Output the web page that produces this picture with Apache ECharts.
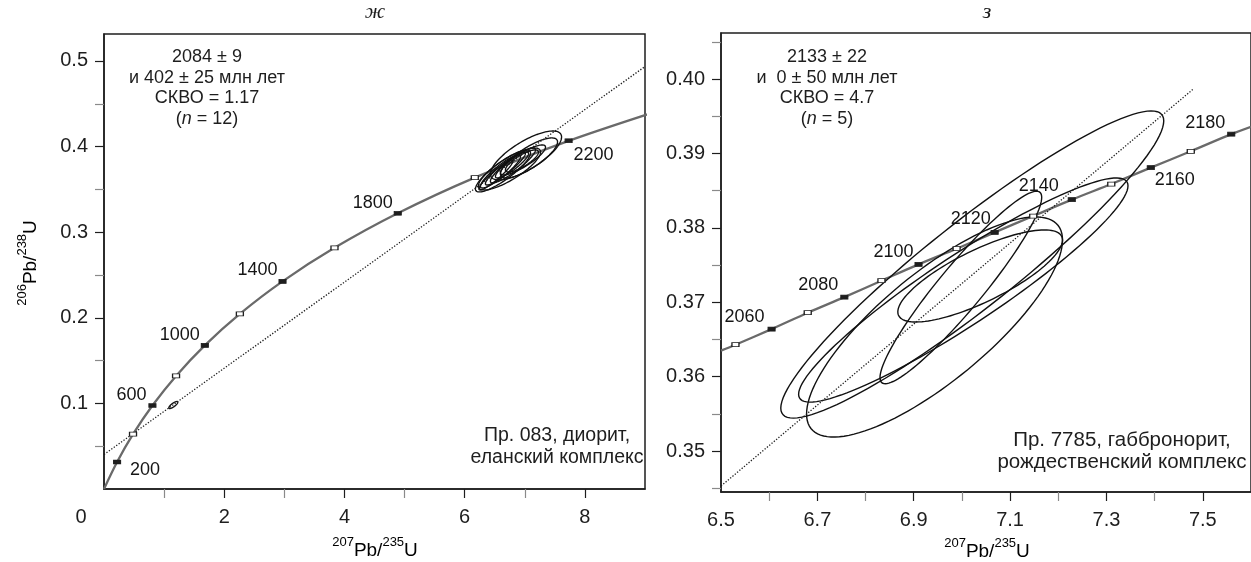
<!DOCTYPE html>
<html>
<head>
<meta charset="utf-8">
<script src="https://cdn.jsdelivr.net/npm/echarts@6/dist/echarts.min.js"></script>
<style>
  html, body { margin: 0; padding: 0; background: #fff; }
  #chart { width: 1251px; height: 562px; }
</style>
</head>
<body>
<div id="chart"></div>
<script>
// ---- Panel ж : concordia ages (Ma) and their isotope ratios ----
const leftAges  = [0, 200, 400, 600, 800, 1000, 1200, 1400, 1600, 1800, 2000, 2200, 2400];
const leftPb207 = [0, 0.2177, 0.4828, 0.8056, 1.1987, 1.6774, 2.2603, 2.9701, 3.8344, 4.8869, 6.1685, 7.7291, 9.6295];
const leftPb206 = [0, 0.03151, 0.06402, 0.09754, 0.13213, 0.16782, 0.20459, 0.24257, 0.28173, 0.32212, 0.36377, 0.40674, 0.45107];
const leftLabelledAges = [200, 600, 1000, 1400, 1800, 2200];
// discordia end points [207Pb/235U, 206Pb/238U]
const leftDiscordia = [[0, 0.0403], [9, 0.4935]];
// error ellipses: [207/235, 206/238, half-width 207/235, half-height 206/238, rho]
const leftEllipses = [
  [7.020, 0.3896, 0.592, 0.0286, 0.755],
  [7.070, 0.3867, 0.475, 0.0234, 0.80],
  [6.745, 0.3738, 0.517, 0.0245, 0.81],
  [6.637, 0.3715, 0.458, 0.0245, 0.86],
  [6.595, 0.3709, 0.333, 0.0193, 0.90],
  [6.678, 0.3744, 0.333, 0.0193, 0.92],
  [6.803, 0.3779, 0.375, 0.0204, 0.90],
  [6.787, 0.3785, 0.275, 0.0152, 0.88],
  [6.520, 0.3668, 0.283, 0.0175, 0.93],
  [6.970, 0.3844, 0.375, 0.0175, 0.85],
  [6.953, 0.3832, 0.275, 0.0129, 0.80],
  [1.153, 0.0981, 0.075, 0.0041, 0.80]
];
const leftXLabels = [0, 2, 4, 6, 8];
const leftXTicks  = [2, 4, 6, 8];
const leftXMinor  = [1, 3, 5, 7];
const leftYLabels = [0.1, 0.2, 0.3, 0.4, 0.5];
const leftYMinor  = [0.05, 0.15, 0.25, 0.35, 0.45];

// ---- Panel з ----
const rightAges  = [2050, 2060, 2070, 2080, 2090, 2100, 2110, 2120, 2130, 2140, 2150, 2160, 2170, 2180];
const rightPb207 = [6.530, 6.605, 6.680, 6.756, 6.833, 6.910, 6.989, 7.068, 7.148, 7.228, 7.310, 7.392, 7.475, 7.559];
const rightPb206 = [0.3643, 0.3664, 0.3686, 0.3707, 0.3729, 0.3751, 0.3772, 0.3794, 0.3816, 0.3838, 0.3859, 0.3881, 0.3903, 0.3926];
const rightConcordiaStart = [6.50, 0.3635];
const rightConcordiaEnd   = [7.60, 0.3936];
const rightLabelledAges = [2060, 2080, 2100, 2120, 2140, 2160, 2180];
const rightDiscordia = [[6.50, 0.3453], [7.479, 0.3986]];
const rightEllipses = [
  [7.0215, 0.37508, 0.3974, 0.020645, 0.935],
  [7.0029, 0.37165, 0.3418, 0.015064, 0.93],
  [7.0379, 0.37354, 0.1709, 0.006187, 0.78],
  [6.9978, 0.37199, 0.1678, 0.012939, 0.936],
  [6.9432, 0.36668, 0.2656, 0.014795, 0.79]
];
const rightXLabels = [6.5, 6.7, 6.9, 7.1, 7.3, 7.5];
const rightXTicks  = [6.7, 6.9, 7.1, 7.3, 7.5];
const rightXMinor  = [6.6, 6.8, 7.0, 7.2, 7.4];
const rightYLabels = [0.35, 0.36, 0.37, 0.38, 0.39, 0.40];
const rightYMinor  = [0.345, 0.355, 0.365, 0.375, 0.385, 0.395, 0.405];

// ---- styling ----
const FONT = '"Liberation Sans", Arial, Helvetica, sans-serif';
const SERIF = '"Liberation Serif", "DejaVu Serif", serif';
const INK = '#1e1e1e';
const CURVE = '#6a6a6a';

// label placement next to the age markers (pixel offsets)
const leftLabelOffset = { 200: [28, 8], 600: [-21, -10], 1000: [-25, -10], 1400: [-25, -11], 1800: [-25, -10], 2200: [25, 14] };
const rightLabelOffset = { 2060: [-27, -12], 2080: [-26, -12], 2100: [-25, -12], 2120: [-24, -13], 2140: [-33, -14], 2160: [24, 12], 2180: [-26, -11] };

function majorX(grid, min, max, labels, ticks, fmt, rich) {
  return {
    type: 'value', gridIndex: grid, min: min, max: max, position: 'bottom',
    axisLine: { show: true, onZero: false, lineStyle: { color: INK, width: 1.5 } },
    axisTick: { show: true, customValues: ticks, length: 9, lineStyle: { color: INK, width: 1.2 } },
    axisLabel: { customValues: labels, formatter: fmt, rich: rich, margin: 18, fontSize: 20, color: INK, fontFamily: FONT },
    splitLine: { show: false }
  };
}
function minorX(grid, min, max, ticks) {
  return {
    type: 'value', gridIndex: grid, min: min, max: max, position: 'bottom',
    axisLine: { show: false, onZero: false },
    axisTick: { show: true, customValues: ticks, length: 9, lineStyle: { color: '#8a8a8a', width: 1.2 } },
    axisLabel: { show: false }, splitLine: { show: false }
  };
}
function majorY(grid, min, max, labels, fmt) {
  return {
    type: 'value', gridIndex: grid, min: min, max: max, position: 'left',
    axisLine: { show: true, onZero: false, lineStyle: { color: INK, width: 1.5 } },
    axisTick: { show: true, customValues: labels, length: 9, lineStyle: { color: INK, width: 1.2 } },
    axisLabel: { customValues: labels, formatter: fmt, margin: 16, fontSize: 20, color: INK, fontFamily: FONT },
    splitLine: { show: false }
  };
}
function minorY(grid, min, max, ticks) {
  return {
    type: 'value', gridIndex: grid, min: min, max: max, position: 'left',
    axisLine: { show: false, onZero: false },
    axisTick: { show: true, customValues: ticks, length: 9, lineStyle: { color: '#8a8a8a', width: 1.2 } },
    axisLabel: { show: false }, splitLine: { show: false }
  };
}

function concordiaLine(points, xi, yi) {
  return {
    type: 'line', xAxisIndex: xi, yAxisIndex: yi, data: points, smooth: 0.3,
    showSymbol: false, silent: true, clip: true, z: 2,
    lineStyle: { color: CURVE, width: 2.3 }
  };
}
function ageMarkers(ages, xs, ys, filled, labelled, offsets, xi, yi) {
  const data = [];
  ages.forEach((t, i) => {
    if (t === 0) return;
    const item = {
      value: [xs[i], ys[i]],
      itemStyle: filled(t) ? { color: INK, borderColor: INK, borderWidth: 0.8, opacity: 1 }
                           : { color: '#fff', borderColor: INK, borderWidth: 1, opacity: 1 }
    };
    if (labelled.includes(t)) {
      item.label = {
        show: true, formatter: String(t), position: 'inside', offset: offsets[t],
        color: '#151515', opacity: 1, fontSize: 18, fontFamily: FONT,
        textBorderWidth: 0
      };
    }
    data.push(item);
  });
  return {
    type: 'scatter', xAxisIndex: xi, yAxisIndex: yi, data: data, clip: true,
    symbol: 'rect', symbolSize: [7, 4], silent: true, z: 6,
    itemStyle: { opacity: 1 }
  };
}
function discordiaLine(points, xi, yi) {
  return {
    type: 'line', xAxisIndex: xi, yAxisIndex: yi, data: points, showSymbol: false,
    silent: true, clip: true, z: 5,
    lineStyle: { color: INK, width: 1.3, type: [1.3, 1.7] }
  };
}
// error ellipse outline from centre, half-widths and correlation
function ellipseSeries(list, xi, yi, lw) {
  return {
    type: 'custom', xAxisIndex: xi, yAxisIndex: yi, data: list, silent: true, z: 4,
    encode: { x: 0, y: 1 },
    renderItem: function (params, api) {
      const cx = api.value(0), cy = api.value(1), sx = api.value(2), sy = api.value(3), r = api.value(4);
      const k = Math.sqrt(1 - r * r);
      const pts = [];
      for (let i = 0; i < 120; i++) {
        const a = i / 120 * Math.PI * 2;
        const c = Math.cos(a), s = Math.sin(a);
        pts.push(api.coord([cx + sx * c, cy + sy * (r * c + k * s)]));
      }
      return { type: 'polygon', shape: { points: pts }, style: { fill: 'none', stroke: '#111', lineWidth: lw } };
    }
  };
}

const supRich = {
  b: { fontSize: 19, fontFamily: FONT, lineHeight: 24, verticalAlign: 'bottom', color: INK },
  s: { fontSize: 13, fontFamily: FONT, lineHeight: 14, verticalAlign: 'top', color: INK }
};
const xTitle = '{s|207}{b|Pb/}{s|235}{b|U}';
const yTitle = '{s|206}{b|Pb/}{s|238}{b|U}';

const chart = echarts.init(document.getElementById('chart'), null, { renderer: 'canvas' });

const leftCurve = leftAges.map((t, i) => [leftPb207[i], leftPb206[i]]);
const rightCurve = [rightConcordiaStart].concat(rightAges.map((t, i) => [rightPb207[i], rightPb206[i]]), [rightConcordiaEnd]);

const option = {
  animation: false,
  backgroundColor: '#fff',
  grid: [
    { left: 104, top: 34, width: 541, height: 455, show: true, borderColor: INK, borderWidth: 1.5 },
    { left: 721, top: 33, width: 535, height: 459, show: true, borderColor: INK, borderWidth: 1.5 }
  ],
  xAxis: [
    majorX(0, 0, 9, leftXLabels, leftXTicks,
      v => (v === 0 ? '{o|0}' : String(v)),
      { o: { padding: [0, 46, 0, 0], fontSize: 20, fontFamily: FONT, color: INK } }),
    minorX(0, 0, 9, leftXMinor),
    majorX(1, 6.5, 7.6, rightXLabels, rightXTicks, v => v.toFixed(1)),
    minorX(1, 6.5, 7.6, rightXMinor)
  ],
  yAxis: [
    majorY(0, 0, 0.5315, leftYLabels, v => v.toFixed(1)),
    minorY(0, 0, 0.5315, leftYMinor),
    majorY(1, 0.3445, 0.4062, rightYLabels, v => v.toFixed(2)),
    minorY(1, 0.3445, 0.4062, rightYMinor)
  ],
  series: [
    concordiaLine(leftCurve, 0, 0),
    ellipseSeries(leftEllipses, 0, 0, 1.35),
    discordiaLine(leftDiscordia, 0, 0),
    ageMarkers(leftAges, leftPb207, leftPb206, t => (t / 200) % 2 === 1, leftLabelledAges, leftLabelOffset, 0, 0),

    concordiaLine(rightCurve, 2, 2),
    ellipseSeries(rightEllipses, 2, 2, 1.4),
    discordiaLine(rightDiscordia, 2, 2),
    ageMarkers(rightAges, rightPb207, rightPb206, t => (t / 10) % 2 === 0, rightLabelledAges, rightLabelOffset, 2, 2)
  ],
  graphic: [
    { type: 'text', x: 375, y: 12, style: { text: 'ж', fontSize: 22, fontStyle: 'italic', fontFamily: SERIF, fill: INK, align: 'center', verticalAlign: 'middle' } },
    { type: 'text', x: 987, y: 12, style: { text: 'з', fontSize: 22, fontStyle: 'italic', fontFamily: SERIF, fill: INK, align: 'center', verticalAlign: 'middle' } },

    { type: 'text', x: 207, y: 88, style: {
      text: '2084 ± 9\nи 402 ± 25 млн лет\nСКВО = 1.17\n({i|n} = 12)',
      fontSize: 18, fontFamily: FONT, lineHeight: 20.8, fill: INK, align: 'center', verticalAlign: 'middle',
      rich: { i: { fontSize: 18, fontStyle: 'italic', fontFamily: FONT, lineHeight: 20.8, color: INK } } } },
    { type: 'text', x: 827, y: 88, style: {
      text: '2133 ± 22\nи  0 ± 50 млн лет\nСКВО = 4.7\n({i|n} = 5)',
      fontSize: 18, fontFamily: FONT, lineHeight: 20.8, fill: INK, align: 'center', verticalAlign: 'middle',
      rich: { i: { fontSize: 18, fontStyle: 'italic', fontFamily: FONT, lineHeight: 20.8, color: INK } } } },

    { type: 'text', x: 557, y: 447, style: {
      text: 'Пр. 083, диорит,\nеланский комплекс', fontSize: 19.5, fontFamily: FONT, lineHeight: 22,
      fill: INK, align: 'center', verticalAlign: 'middle' } },
    { type: 'text', x: 1122, y: 451, style: {
      text: 'Пр. 7785, габбронорит,\nрождественский комплекс', fontSize: 20.5, fontFamily: FONT, lineHeight: 22,
      fill: INK, align: 'center', verticalAlign: 'middle' } },

    { type: 'text', x: 375, y: 548, style: { text: xTitle, rich: supRich, align: 'center', verticalAlign: 'middle' } },
    { type: 'text', x: 987, y: 549, style: { text: xTitle, rich: supRich, align: 'center', verticalAlign: 'middle' } },
    { type: 'text', x: 28, y: 263, rotation: Math.PI / 2, style: { text: yTitle, rich: supRich, align: 'center', verticalAlign: 'middle' } }
  ]
};

chart.setOption(option);
</script>
</body>
</html>
